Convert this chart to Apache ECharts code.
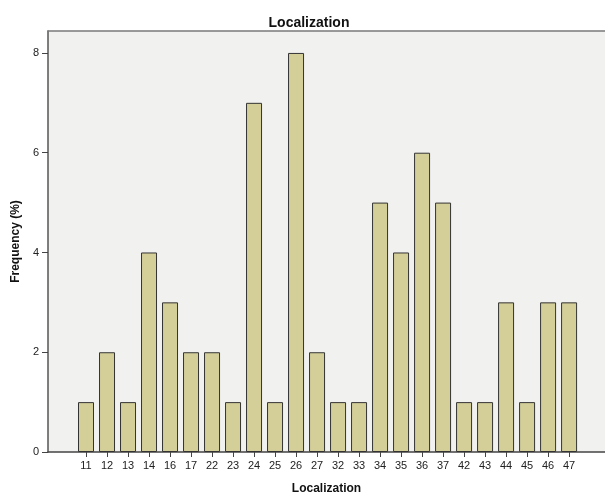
<!DOCTYPE html>
<html><head><meta charset="utf-8">
<script src="https://cdn.jsdelivr.net/npm/echarts@6/dist/echarts.min.js"></script>
<style>html,body{margin:0;padding:0;background:#fff}#c{width:605px;height:500px}</style>
</head><body><div id="c"></div>
<script>
const categories = ['11','12','13','14','16','17','22','23','24','25','26','27','32','33','34','35','36','37','42','43','44','45','46','47'];
const frequency = [1,2,1,4,3,2,2,1,7,1,8,2,1,1,5,4,6,5,1,1,3,1,3,3];
const yTicks = [0,2,4,6,8];

const chart = echarts.init(document.getElementById('c'));
const idx = categories.map((_, i) => i);
const font = 'Liberation Sans';
chart.setOption({
  animation: false,
  title: {
    text: 'Localization', left: 304, top: 11, textAlign: 'center',
    textStyle: { fontFamily: font, fontSize: 14, fontWeight: 'bold', color: '#111' }
  },
  grid: {
    left: 48, right: 0, top: 31, bottom: 45,
    show: true, backgroundColor: '#f1f1f0', borderWidth: 0
  },
  xAxis: [{
    type: 'value', min: -1.81, max: 24.71,
    name: 'Localization', nameLocation: 'middle', nameGap: 31,
    nameTextStyle: { fontFamily: font, fontSize: 12, fontWeight: 'bold', color: '#111' },
    splitLine: { show: false },
    axisLine: { show: true, onZero: false, lineStyle: { color: '#444', width: 1.5 } },
    axisTick: { show: true, customValues: idx, length: 5, lineStyle: { color: '#444' } },
    axisLabel: {
      customValues: idx, margin: 8,
      formatter: v => categories[Math.round(v)] || '',
      fontFamily: font, fontSize: 11, color: '#222'
    }
  }, {
    type: 'value', position: 'top', min: -1.81, max: 24.71,
    splitLine: { show: false }, axisTick: { show: false }, axisLabel: { show: false },
    axisLine: { show: true, onZero: false, lineStyle: { color: '#7a7a7a', width: 1.5 } }
  }],
  yAxis: {
    type: 'value', min: 0, max: 8.44,
    name: 'Frequency (%)', nameLocation: 'middle', nameGap: 25,
    nameTextStyle: { fontFamily: font, fontSize: 12, fontWeight: 'bold', color: '#111' },
    splitLine: { show: false },
    axisLine: { show: true, onZero: false, lineStyle: { color: '#555', width: 1.5 } },
    axisTick: { show: true, customValues: yTicks, length: 6, lineStyle: { color: '#444' } },
    axisLabel: {
      customValues: yTicks, margin: 9,
      fontFamily: font, fontSize: 11, color: '#222'
    }
  },
  series: [{
    type: 'bar',
    xAxisIndex: 0,
    data: frequency.map((v, i) => [i, v]),
    barWidth: 16,
    itemStyle: { color: '#d4cf99', borderColor: '#333', borderWidth: 1 }
  }]
});
</script></body></html>
